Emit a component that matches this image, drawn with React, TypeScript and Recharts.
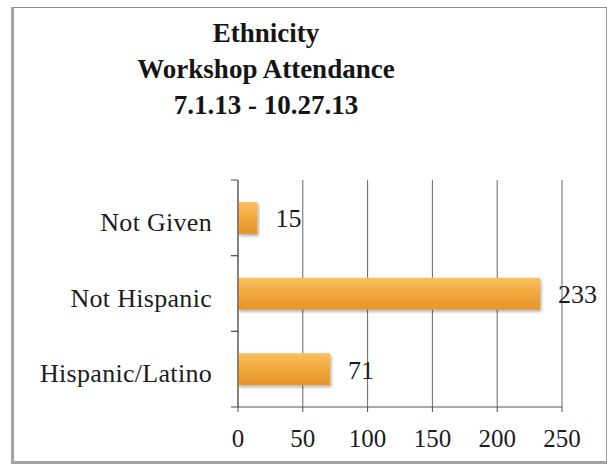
import { BarChart, Bar, XAxis, YAxis, CartesianGrid, LabelList } from "recharts";

const categories = ["Not Given", "Not Hispanic", "Hispanic/Latino"];
const attendance = [15, 233, 71];
const xTicks = [0, 50, 100, 150, 200, 250];
const titleLines = ["Ethnicity", "Workshop Attendance", "7.1.13 - 10.27.13"];

const data = categories.map((name, i) => ({ name, value: attendance[i] }));

const SERIF = '"Liberation Serif", "Times New Roman", serif';
const AXIS = "#505050";
const LABEL_GAP = 26;

// category label plus Excel-style tick marks on the band boundaries
const CategoryTick = (props: any) => {
  const { x, y, payload } = props;
  const half = payload?.offset ?? 0;
  const axisX = x + LABEL_GAP;
  return (
    <g>
      {half > 0 && (
        <>
          <line x1={axisX - 7} x2={axisX} y1={y - half} y2={y - half} stroke={AXIS} />
          <line x1={axisX - 7} x2={axisX} y1={y + half} y2={y + half} stroke={AXIS} />
        </>
      )}
      <text
        x={x}
        y={y}
        dy="0.5em"
        textAnchor="end"
        fontFamily={SERIF}
        fontSize={26}
        fill="#1c1c1c"
        letterSpacing={0.3}
      >
        {payload.value}
      </text>
    </g>
  );
};

export default function App() {
  return (
    <div style={{ position: "absolute", left: 0, top: 0, width: 607, height: 470, background: "#fff" }}>
      {/* scanned frame */}
      <div
        style={{
          position: "absolute",
          left: 11,
          top: 7,
          width: 592,
          height: 453,
          borderTop: "1px solid #8a8a8a",
          borderLeft: "3px solid #a3a3a3",
          borderRight: "1px solid #9a9a9a",
          borderBottom: "3px solid #a3a3a3",
        }}
      />
      <div
        style={{
          position: "absolute",
          left: 66,
          top: 15,
          width: 400,
          textAlign: "center",
          fontFamily: SERIF,
          fontWeight: "bold",
          fontSize: 27,
          lineHeight: "36px",
          color: "#151515",
        }}
      >
        {titleLines.map((t) => (
          <div key={t}>{t}</div>
        ))}
      </div>
      <div style={{ position: "absolute", left: 0, top: 0 }}>
        <BarChart
          width={607}
          height={470}
          data={data}
          layout="vertical"
          margin={{ top: 180, right: 45, bottom: 23, left: 18 }}
        >
          <defs>
            <linearGradient id="barFill" x1="0" y1="0" x2="0" y2="1">
              <stop offset="0%" stopColor="#f9c063" />
              <stop offset="45%" stopColor="#f4aa3e" />
              <stop offset="100%" stopColor="#e5962c" />
            </linearGradient>
            <filter id="barShadow" x="-5%" y="-20%" width="115%" height="160%">
              <feDropShadow dx="1.5" dy="2" stdDeviation="1.5" floodColor="#000" floodOpacity="0.3" />
            </filter>
          </defs>
          <CartesianGrid horizontal={false} stroke="#666" />
          <XAxis
            type="number"
            domain={[0, 250]}
            ticks={xTicks}
            height={40}
            axisLine={{ stroke: AXIS }}
            tickLine={{ stroke: AXIS }}
            tickSize={5}
            tickMargin={17}
            tick={{ fontFamily: SERIF, fontSize: 25, fill: "#1c1c1c" }}
          />
          <YAxis
            type="category"
            dataKey="name"
            width={220}
            axisLine={{ stroke: AXIS }}
            tickLine={false}
            tickSize={0}
            tickMargin={LABEL_GAP}
            tick={<CategoryTick />}
          />
          <Bar
            dataKey="value"
            barSize={32}
            fill="url(#barFill)"
            filter="url(#barShadow)"
            isAnimationActive={false}
          >
            <LabelList
              dataKey="value"
              position="right"
              offset={18}
              style={{ fontFamily: SERIF, fontSize: 26, fill: "#1c1c1c" }}
            />
          </Bar>
        </BarChart>
      </div>
    </div>
  );
}
